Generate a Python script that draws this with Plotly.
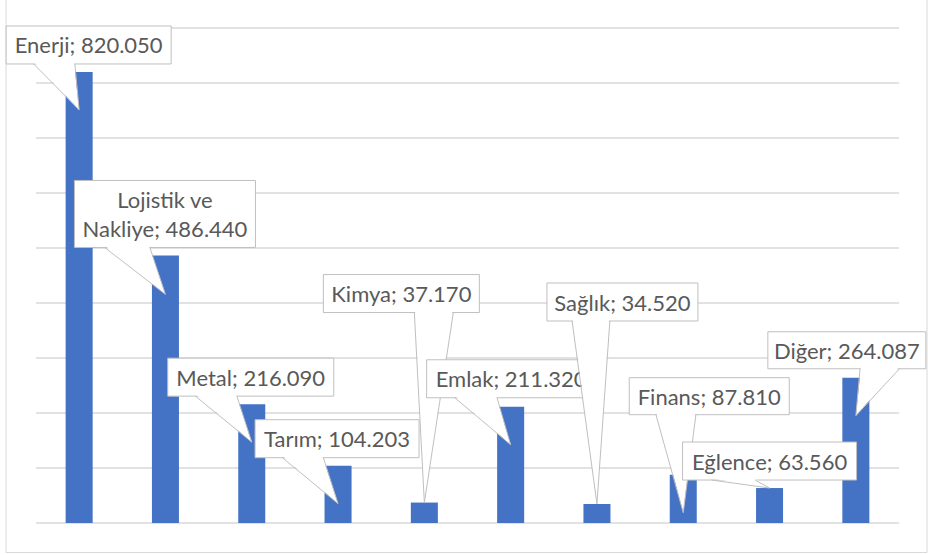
import plotly.graph_objects as go

# Sector totals
categories = ["Enerji", "Lojistik ve Nakliye", "Metal", "Tarım", "Kimya",
              "Emlak", "Sağlık", "Finans", "Eğlence", "Diğer"]
values = [820050, 486440, 216090, 104203, 37170, 211320, 34520, 87810, 63560, 264087]
# how each category name is wrapped inside its callout
label_names = ["Enerji", "Lojistik ve<br>Nakliye", "Metal", "Tarım", "Kimya",
               "Emlak", "Sağlık", "Finans", "Eğlence", "Diğer"]
y_max = 900000
y_step = 100000

# Callout geometry in pixels, relative to the top-centre of each bar
# (x to the right, y upward): box left, right, bottom, top; tip drop; wedge side
box_left = [-73, -91, -84, -83, -101, -84, -50, -54, -87, -88]
box_right = [92, 90, 82, 81, 55, 85, 101, 106, 87, 70]
box_bottom = [8, 8, 8, 8, 190, 9, 183, 60, 8, 9]
box_top = [46, 75, 46, 46, 228, 47, 221, 97, 46, 46]
tip_drop = [38, 39, 38, 38, 0, 38, 0, 38, 0, 38]
wedge_side = ["L", "L", "L", "L", "R", "L", "L", "L", "L", "R"]

BAR_COLOR = "#4472C4"
GRID_COLOR = "#D9D9D9"
CALLOUT_LINE = "#BFBFBF"
TEXT_COLOR = "#595959"
FONT = "Lato"

# figure size and the inner plotting region (pixels)
W, H = 928, 555
AREA_L, AREA_R, AREA_T, AREA_B = 36, 899, 28, 523
n = len(categories)
cat_px = (AREA_R - AREA_L) / n          # pixels per category
val_px = (AREA_B - AREA_T) / y_max      # pixels per unit of value

x_range = [-0.5 - AREA_L / cat_px, n - 0.5 + (W - AREA_R) / cat_px]
y_range = [-(H - AREA_B) / val_px, y_max + AREA_T / val_px]


def fmt(v):
    return f"{v:,}".replace(",", ".")


def dx(px):
    return px / cat_px


def dy(px):
    return px / val_px


fig = go.Figure(
    go.Bar(
        x=list(range(n)),
        y=values,
        width=0.313,
        marker=dict(color=BAR_COLOR, line=dict(width=0)),
        hovertext=categories,
        hoverinfo="text+y",
    )
)

shapes = []

# horizontal gridlines limited to the plotting region
for k in range(0, y_max + 1, y_step):
    shapes.append(dict(
        type="line", xref="paper", yref="y",
        x0=AREA_L / W, x1=AREA_R / W, y0=k, y1=k,
        line=dict(color=GRID_COLOR, width=1.5), layer="below",
    ))

# chart-area frame
shapes.append(dict(
    type="rect", xref="paper", yref="paper",
    x0=6 / W, x1=927 / W, y0=2.5 / H, y1=1.05,
    line=dict(color=GRID_COLOR, width=1), fillcolor="rgba(0,0,0,0)", layer="below",
))

for i, (name, v) in enumerate(zip(label_names, values)):
    x0, x1 = box_left[i], box_right[i]
    yb, yt = box_bottom[i], box_top[i]
    w = x1 - x0
    if wedge_side[i] == "L":
        bl, br = x0 + w * 2 / 12, x0 + w * 5 / 12
    else:
        bl, br = x0 + w * 7 / 12, x0 + w * 10 / 12
    tip = -tip_drop[i]

    def X(px):
        return i + dx(px)

    def Y(px):
        return v + dy(px)

    # label box with its text
    shapes.append(dict(
        type="rect", xref="x", yref="y", layer="above",
        x0=X(x0), x1=X(x1), y0=Y(yb), y1=Y(yt),
        fillcolor="white", line=dict(color=CALLOUT_LINE, width=1),
        label=dict(text=f"{name}; {fmt(v)}", textposition="middle center",
                   font=dict(family=FONT, size=22, color=TEXT_COLOR), padding=0),
    ))
    # wedge body (covers the box edge where the pointer leaves it)
    shapes.append(dict(
        type="path", xref="x", yref="y", layer="above",
        path=(f"M {X(bl + 0.8)},{Y(yb + 1.5)} L {X(br - 0.8)},{Y(yb + 1.5)} "
              f"L {X(0)},{Y(tip)} Z"),
        fillcolor="white", line=dict(width=0),
    ))
    # wedge outline
    shapes.append(dict(
        type="path", xref="x", yref="y", layer="above",
        path=f"M {X(bl)},{Y(yb)} L {X(0)},{Y(tip)} L {X(br)},{Y(yb)}",
        fillcolor="rgba(0,0,0,0)", line=dict(color=CALLOUT_LINE, width=1),
    ))

fig.update_layout(
    width=W, height=H,
    margin=dict(l=0, r=0, t=0, b=0, pad=0),
    paper_bgcolor="white", plot_bgcolor="white",
    showlegend=False,
    xaxis=dict(range=x_range, showticklabels=False, showgrid=False,
               zeroline=False, showline=False, ticks=""),
    yaxis=dict(range=y_range, showticklabels=False, showgrid=False,
               zeroline=False, showline=False, ticks=""),
    shapes=shapes,
    font=dict(family=FONT, color=TEXT_COLOR),
)

fig.write_html("out.html")
